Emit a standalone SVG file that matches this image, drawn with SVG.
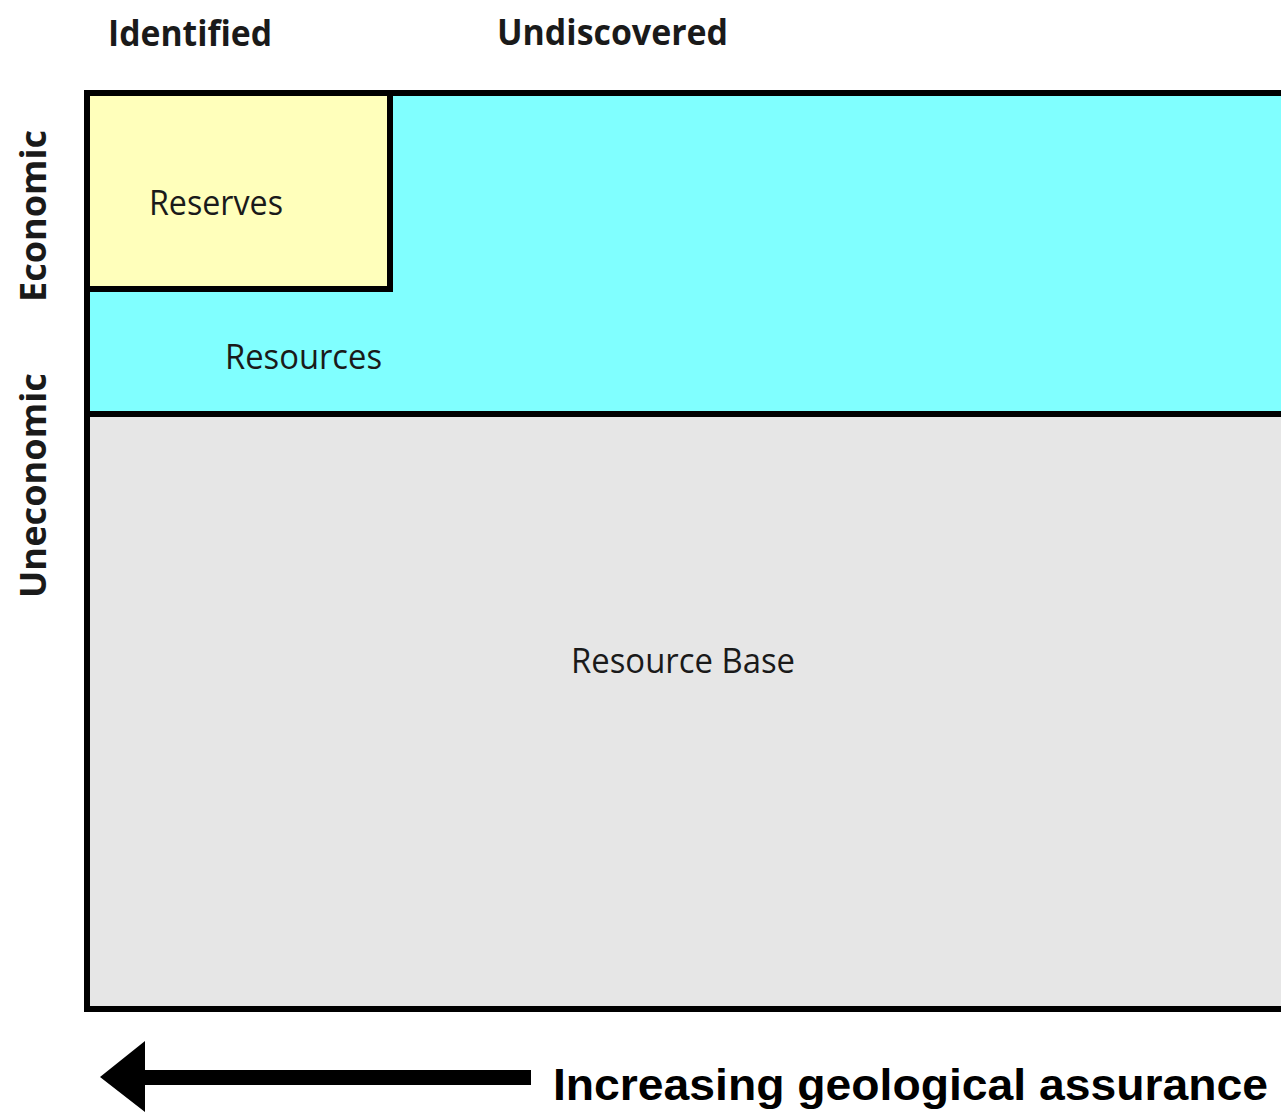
<svg xmlns="http://www.w3.org/2000/svg" width="1281" height="1113" viewBox="0 0 1281 1113">
<style>
.lbl{font-family:"Open Sans","Liberation Sans",sans-serif;fill:#1a1a1a}
.b{font-weight:bold}
.frame{stroke:#000;stroke-width:6}
</style>
<rect width="1281" height="1113" fill="#fff"/>
<g id="resource-base">
<rect x="87" y="414" width="1200" height="595" fill="#e6e6e6" class="frame"/>
<text class="lbl" x="571" y="673" font-size="35" textLength="224" lengthAdjust="spacingAndGlyphs">Resource Base</text>
</g>
<g id="resources">
<rect x="87" y="93" width="1200" height="321" fill="#80ffff" class="frame"/>
<text class="lbl" x="225" y="369" font-size="35" textLength="157" lengthAdjust="spacingAndGlyphs">Resources</text>
</g>
<g id="reserves">
<rect x="87" y="93" width="303" height="196" fill="#ffffbb" class="frame"/>
<text class="lbl" x="149" y="215" font-size="35" textLength="134" lengthAdjust="spacingAndGlyphs">Reserves</text>
</g>
<g id="labels">
<text class="lbl b" x="108" y="46" font-size="36" textLength="164" lengthAdjust="spacingAndGlyphs">Identified</text>
<text class="lbl b" x="497" y="45" font-size="36" textLength="231" lengthAdjust="spacingAndGlyphs">Undiscovered</text>
<text class="lbl b" transform="translate(46,302) rotate(-90)" font-size="35" textLength="172" lengthAdjust="spacingAndGlyphs">Economic</text>
<text class="lbl b" transform="translate(46,598) rotate(-90)" font-size="35" textLength="225" lengthAdjust="spacingAndGlyphs">Uneconomic</text>
</g>
<g id="connectors">
<polygon points="100,1077 145,1041 145,1070 531,1070 531,1085 145,1085 145,1112" fill="#000"/>
<text x="553" y="1100" font-family="Liberation Sans,Arial,sans-serif" font-weight="bold" font-size="44" fill="#000" textLength="715" lengthAdjust="spacingAndGlyphs">Increasing geological assurance</text>
</g>
</svg>
